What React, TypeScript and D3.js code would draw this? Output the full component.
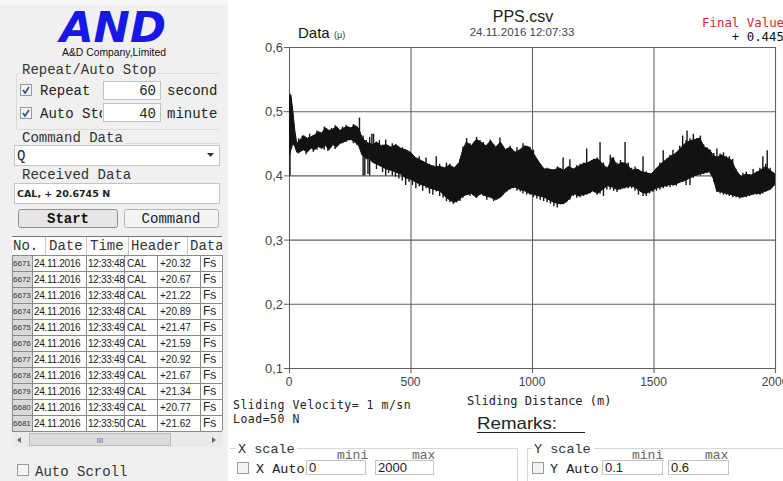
import React from "react";
import * as d3 from "d3";

// Friction coefficient trace: envelope of the dense signal (lower / upper bound) per sliding distance
const distance = [0, 8, 16, 24, 32, 45, 60, 75, 90, 105, 120, 135, 150, 165, 180, 195, 210, 225, 240, 255, 270, 285, 300, 315, 330, 345, 360, 380, 400, 420, 440, 460, 480, 500, 520, 540, 560, 580, 600, 620, 640, 660, 680, 700, 715, 730, 750, 770, 790, 810, 830, 850, 870, 890, 910, 930, 950, 970, 990, 1010, 1030, 1050, 1070, 1090, 1110, 1130, 1150, 1170, 1190, 1210, 1230, 1250, 1270, 1290, 1310, 1330, 1350, 1370, 1390, 1410, 1430, 1450, 1470, 1490, 1510, 1530, 1550, 1570, 1590, 1610, 1630, 1650, 1670, 1690, 1710, 1730, 1745, 1760, 1780, 1800, 1820, 1840, 1860, 1880, 1900, 1920, 1940, 1960, 1980, 2000];
const lower = [0.43, 0.44, 0.45, 0.445, 0.436, 0.437, 0.44, 0.436, 0.443, 0.44, 0.445, 0.442, 0.447, 0.44, 0.448, 0.444, 0.45, 0.452, 0.455, 0.456, 0.452, 0.448, 0.432, 0.428, 0.426, 0.42, 0.418, 0.414, 0.41, 0.408, 0.405, 0.402, 0.396, 0.394, 0.39, 0.386, 0.384, 0.38, 0.378, 0.376, 0.368, 0.362, 0.358, 0.362, 0.368, 0.37, 0.372, 0.366, 0.372, 0.368, 0.366, 0.362, 0.366, 0.374, 0.38, 0.382, 0.378, 0.376, 0.372, 0.37, 0.368, 0.366, 0.362, 0.358, 0.356, 0.356, 0.362, 0.372, 0.368, 0.37, 0.372, 0.376, 0.372, 0.378, 0.384, 0.382, 0.378, 0.38, 0.382, 0.384, 0.38, 0.374, 0.372, 0.376, 0.38, 0.382, 0.384, 0.386, 0.386, 0.39, 0.392, 0.396, 0.4, 0.402, 0.404, 0.406, 0.396, 0.376, 0.374, 0.372, 0.37, 0.368, 0.366, 0.368, 0.37, 0.372, 0.372, 0.376, 0.378, 0.386];
const upper = [0.52, 0.525, 0.5, 0.47, 0.45, 0.455, 0.462, 0.458, 0.46, 0.463, 0.468, 0.466, 0.474, 0.47, 0.472, 0.476, 0.47, 0.474, 0.476, 0.474, 0.478, 0.474, 0.46, 0.452, 0.45, 0.448, 0.452, 0.446, 0.448, 0.444, 0.448, 0.442, 0.44, 0.436, 0.428, 0.424, 0.42, 0.416, 0.414, 0.414, 0.412, 0.416, 0.412, 0.42, 0.44, 0.452, 0.446, 0.456, 0.452, 0.446, 0.454, 0.444, 0.452, 0.44, 0.444, 0.436, 0.44, 0.446, 0.444, 0.432, 0.42, 0.41, 0.41, 0.408, 0.412, 0.408, 0.414, 0.41, 0.414, 0.418, 0.42, 0.424, 0.426, 0.418, 0.41, 0.428, 0.416, 0.42, 0.418, 0.408, 0.41, 0.406, 0.404, 0.402, 0.41, 0.418, 0.424, 0.43, 0.434, 0.442, 0.45, 0.454, 0.456, 0.458, 0.444, 0.44, 0.432, 0.428, 0.432, 0.428, 0.424, 0.408, 0.398, 0.402, 0.4, 0.404, 0.408, 0.414, 0.408, 0.402];

// Local high / low excursions of the signal (one vertical stroke each)
const swingDistance = [4, 40, 55, 70, 85, 100, 115, 130, 145, 160, 175, 190, 205, 220, 235, 250, 265, 280, 290, 305, 312, 318, 325, 332, 341, 348, 360, 372, 385, 398, 410, 425, 438, 452, 466, 480, 494, 508, 522, 536, 550, 564, 578, 592, 606, 620, 634, 648, 662, 676, 690, 704, 716, 731, 745, 758, 772, 786, 800, 814, 828, 842, 856, 868, 882, 896, 910, 924, 938, 952, 963, 978, 992, 1006, 1020, 1034, 1048, 1062, 1076, 1090, 1104, 1118, 1128, 1142, 1156, 1170, 1184, 1198, 1212, 1225, 1240, 1254, 1268, 1280, 1294, 1308, 1322, 1336, 1350, 1364, 1383, 1396, 1410, 1424, 1438, 1457, 1470, 1484, 1498, 1512, 1526, 1540, 1554, 1568, 1580, 1594, 1608, 1620, 1634, 1638, 1650, 1664, 1678, 1693, 1706, 1720, 1734, 1748, 1761, 1774, 1788, 1800, 1812, 1826, 1840, 1854, 1868, 1882, 1896, 1910, 1924, 1938, 1950, 1962, 1968, 1980, 1994];
const swingHigh = [0.527, 0.458, 0.462, 0.456, 0.465, 0.463, 0.47, 0.466, 0.476, 0.468, 0.474, 0.478, 0.47, 0.476, 0.479, 0.474, 0.48, 0.476, 0.49, 0.462, 0.455, 0.455, 0.45, 0.46, 0.465, 0.465, 0.452, 0.455, 0.448, 0.456, 0.446, 0.45, 0.446, 0.44, 0.444, 0.44, 0.436, 0.43, 0.425, 0.43, 0.422, 0.428, 0.418, 0.415, 0.43, 0.418, 0.412, 0.42, 0.418, 0.41, 0.415, 0.425, 0.445, 0.458, 0.45, 0.448, 0.46, 0.455, 0.452, 0.445, 0.456, 0.448, 0.445, 0.459, 0.444, 0.442, 0.446, 0.438, 0.444, 0.44, 0.45, 0.446, 0.444, 0.44, 0.425, 0.418, 0.41, 0.412, 0.408, 0.41, 0.414, 0.41, 0.428, 0.412, 0.425, 0.41, 0.416, 0.418, 0.42, 0.442, 0.422, 0.426, 0.428, 0.452, 0.42, 0.414, 0.432, 0.428, 0.42, 0.424, 0.452, 0.42, 0.412, 0.414, 0.41, 0.43, 0.406, 0.404, 0.405, 0.412, 0.42, 0.439, 0.426, 0.432, 0.44, 0.436, 0.446, 0.462, 0.455, 0.47, 0.458, 0.465, 0.458, 0.462, 0.448, 0.444, 0.44, 0.435, 0.442, 0.434, 0.436, 0.43, 0.43, 0.426, 0.41, 0.4, 0.404, 0.406, 0.402, 0.41, 0.406, 0.412, 0.43, 0.418, 0.439, 0.412, 0.404];
const swingLow = [0.4, 0.434, 0.438, 0.433, 0.44, 0.437, 0.44, 0.443, 0.44, 0.438, 0.445, 0.441, 0.448, 0.45, 0.452, 0.455, 0.45, 0.447, 0.45, 0.4, 0.4, 0.425, 0.402, 0.4, 0.44, 0.42, 0.41, 0.415, 0.405, 0.4, 0.404, 0.4, 0.398, 0.395, 0.392, 0.385, 0.39, 0.385, 0.38, 0.383, 0.376, 0.38, 0.372, 0.37, 0.375, 0.368, 0.365, 0.36, 0.358, 0.356, 0.358, 0.36, 0.365, 0.37, 0.368, 0.372, 0.365, 0.37, 0.368, 0.362, 0.366, 0.36, 0.364, 0.366, 0.37, 0.375, 0.378, 0.38, 0.376, 0.375, 0.372, 0.37, 0.37, 0.366, 0.364, 0.362, 0.36, 0.358, 0.356, 0.352, 0.35, 0.355, 0.356, 0.358, 0.362, 0.368, 0.365, 0.366, 0.368, 0.37, 0.372, 0.374, 0.37, 0.372, 0.368, 0.378, 0.378, 0.376, 0.374, 0.378, 0.38, 0.38, 0.38, 0.376, 0.37, 0.368, 0.368, 0.372, 0.374, 0.376, 0.378, 0.38, 0.382, 0.382, 0.384, 0.384, 0.388, 0.39, 0.385, 0.395, 0.385, 0.396, 0.4, 0.4, 0.402, 0.404, 0.404, 0.39, 0.374, 0.372, 0.37, 0.37, 0.368, 0.366, 0.366, 0.364, 0.366, 0.366, 0.368, 0.37, 0.37, 0.37, 0.372, 0.374, 0.376, 0.378, 0.384];

const xTicks = [0, 500, 1000, 1500, 2000];
const yTicks = [0.1, 0.2, 0.3, 0.4, 0.5, 0.6];

// Received data log
const rowNo = [6671, 6672, 6673, 6674, 6675, 6676, 6677, 6678, 6679, 6680, 6681];
const rowDate = ["24.11.2016", "24.11.2016", "24.11.2016", "24.11.2016", "24.11.2016", "24.11.2016", "24.11.2016", "24.11.2016", "24.11.2016", "24.11.2016", "24.11.2016"];
const rowTime = ["12:33:48", "12:33:48", "12:33:48", "12:33:48", "12:33:49", "12:33:49", "12:33:49", "12:33:49", "12:33:49", "12:33:49", "12:33:50"];
const rowHeader = ["CAL", "CAL", "CAL", "CAL", "CAL", "CAL", "CAL", "CAL", "CAL", "CAL", "CAL"];
const rowValue = ["+20.32", "+20.67", "+21.22", "+20.89", "+21.47", "+21.59", "+20.92", "+21.67", "+21.34", "+20.77", "+21.62"];
const rowUnit = ["Fs", "Fs", "Fs", "Fs", "Fs", "Fs", "Fs", "Fs", "Fs", "Fs", "Fs"];

const finalValue = 0.445;

const MONO = "'Liberation Mono', 'Courier New', monospace";
const CONSOLE = "'DejaVu Sans Mono', monospace";
const SANS = "Arial, 'Liberation Sans', sans-serif";

function CheckBox({ x, y, checked }: { x: number; y: number; checked: boolean }) {
  return (
    <g>
      <rect x={x + 0.5} y={y + 0.5} width={11} height={11} fill="#f4f4f4" stroke="#9a9a9a" />
      {checked && (
        <path d={`M${x + 3},${y + 6} L${x + 5},${y + 9} L${x + 9},${y + 3}`} fill="none" stroke="#2b4f9a" strokeWidth={1.6} />
      )}
    </g>
  );
}

function TextBox({ x, y, w, h }: { x: number; y: number; w: number; h: number }) {
  return <rect x={x + 0.5} y={y + 0.5} width={w} height={h} fill="#fff" stroke="#c4c4c4" />;
}

export default function App() {
  const x = d3.scaleLinear().domain([0, 2000]).range([289, 775]);
  const y = d3.scaleLinear().domain([0.1, 0.6]).range([368, 47]);

  const band = d3
    .area<number>()
    .x((_, i) => x(distance[i]))
    .y0((_, i) => y(lower[i]))
    .y1((_, i) => y(upper[i]));
  const bandPath = band(distance) || "";

  const fmtY = (v: number) => d3.format(".1f")(v).replace(".", ",");

  const rowH = 16;
  const tableTop = 237;
  const headH = 18;
  const rowCols = [12, 32, 86, 124, 157, 200, 222];

  return (
    <svg width={783} height={481} style={{ position: "absolute", left: 0, top: 0 }} fontFamily={SANS}>
      <defs>
        <clipPath id="clip-autostop">
          <rect x={30} y={100} width={72} height={25} />
        </clipPath>
        <clipPath id="clip-xauto">
          <rect x={250} y={458} width={55} height={20} />
        </clipPath>
        <clipPath id="clip-plot">
          <rect x={289} y={40} width={486} height={330} />
        </clipPath>
      </defs>
      <rect x={0} y={0} width={783} height={481} fill="#fff" />

      {/* control panel */}
      <rect x={0} y={0} width={228} height={481} fill="#f0f0f0" />
      <rect x={0} y={0} width={228} height={5} fill="#f7f7f7" />
      <text x={60} y={42} fontFamily="'DejaVu Sans', sans-serif" fontWeight="bold" fontStyle="italic" fontSize={42} fill="#1717e8" textLength={106} lengthAdjust="spacingAndGlyphs">AND</text>
      <text x={62} y={56} fontSize={10.5} fill="#111" textLength={104} lengthAdjust="spacingAndGlyphs">A&amp;D Company,Limited</text>

      <rect x={16.5} y={73.5} width={203} height={56} rx={2} fill="none" stroke="#dadada" />
      <rect x={20} y={64} width={138} height={14} fill="#f0f0f0" />
      <text x={22} y={74} fontFamily={MONO} fontSize={14} fill="#333">Repeat/Auto Stop</text>
      <CheckBox x={20} y={84} checked />
      <text x={40} y={95} fontFamily={MONO} fontSize={14} fill="#222">Repeat</text>
      <TextBox x={103} y={81} w={57} h={18} />
      <text x={156} y={95} textAnchor="end" fontFamily={MONO} fontSize={14} fill="#222">60</text>
      <text x={167} y={95} fontFamily={MONO} fontSize={14} fill="#222">second</text>
      <CheckBox x={20} y={107} checked />
      <text x={40} y={118} fontFamily={MONO} fontSize={14} fill="#222" clipPath="url(#clip-autostop)">Auto Stop</text>
      <TextBox x={103} y={103} w={57} h={18} />
      <text x={156} y={118} textAnchor="end" fontFamily={MONO} fontSize={14} fill="#222">40</text>
      <text x={167} y={118} fontFamily={MONO} fontSize={14} fill="#222">minute</text>
      <rect x={219} y={60} width={9} height={80} fill="#f0f0f0" />

      <text x={22} y={142} fontFamily={MONO} fontSize={14} fill="#333">Command Data</text>
      <line x1={125} x2={219} y1={143.5} y2={143.5} stroke="#dadada" />
      <TextBox x={14} y={145} w={205} h={20} />
      <text x={17} y={160} fontFamily={MONO} fontSize={14} fill="#222">Q</text>
      <path d="M207,153 L214,153 L210.5,157 Z" fill="#333" />
      <text x={22} y={179} fontFamily={MONO} fontSize={14} fill="#333">Received Data</text>
      <TextBox x={14} y={183} w={205} h={20} />
      <text x={17} y={197} fontFamily="'DejaVu Sans', sans-serif" fontWeight="bold" fontSize={9.5} fill="#222">CAL, + 20.6745  N</text>

      <rect x={18.5} y={209.5} width={99} height={18} rx={2} fill="#e6e6e6" stroke="#8f8f8f" />
      <text x={68} y={223} textAnchor="middle" fontFamily={MONO} fontWeight="bold" fontSize={14} fill="#111">Start</text>
      <rect x={124.5} y={209.5} width={94} height={18} rx={2} fill="#f4f4f4" stroke="#b5b5b5" />
      <text x={171} y={223} textAnchor="middle" fontFamily={MONO} fontSize={14} fill="#222">Command</text>

      {/* data log table */}
      <rect x={12} y={tableTop} width={210} height={headH + rowNo.length * rowH} fill="#fff" />
      <line x1={12} x2={222} y1={tableTop - 0.5} y2={tableTop - 0.5} stroke="#777" />
      {[45.5, 86.5, 128.5, 187.5].map((cx) => (
        <line key={cx} x1={cx} x2={cx} y1={tableTop} y2={tableTop + headH} stroke="#c8c8c8" />
      ))}
      <text y={tableTop + 13} fontFamily={MONO} fontSize={14} fill="#333">
        <tspan x={13}>No.</tspan>
        <tspan x={49}>Date</tspan>
        <tspan x={90}>Time</tspan>
        <tspan x={131}>Header</tspan>
        <tspan x={190}>Data</tspan>
      </text>
      <rect x={222} y={tableTop} width={6} height={headH} fill="#f0f0f0" />
      {rowNo.map((n, i) => {
        const top = tableTop + headH + i * rowH;
        const base = top + 12;
        return (
          <g key={n}>
            <rect x={12} y={top} width={20} height={rowH} fill="#d9d9d9" />
            <line x1={12} x2={222} y1={top + 0.5} y2={top + 0.5} stroke="#8a8a8a" />
            {rowCols.map((cx) => (
              <line key={cx} x1={cx + 0.5} x2={cx + 0.5} y1={top} y2={top + rowH} stroke="#8a8a8a" />
            ))}
            <text x={13} y={base - 1} fontSize={8} fill="#333">{n}</text>
            <text x={34} y={base} fontSize={10} letterSpacing={-0.3} fill="#222">{rowDate[i]}</text>
            <text x={88} y={base} fontSize={10} letterSpacing={-0.3} fill="#222">{rowTime[i]}</text>
            <text x={127} y={base} fontSize={10} fill="#222">{rowHeader[i]}</text>
            <text x={160} y={base} fontSize={10} fill="#222">{rowValue[i]}</text>
            <text x={203} y={base} fontSize={12} fill="#222">{rowUnit[i]}</text>
          </g>
        );
      })}
      <line x1={12} x2={222} y1={tableTop + headH + rowNo.length * rowH + 0.5} y2={tableTop + headH + rowNo.length * rowH + 0.5} stroke="#8a8a8a" />

      {/* horizontal scrollbar */}
      <rect x={12} y={432} width={210} height={15} fill="#eaeaea" />
      <rect x={29.5} y={433.5} width={141} height={12} fill="#dcdcdc" stroke="#bdbdbd" />
      <text x={100} y={443} textAnchor="middle" fontSize={8} fill="#666">III</text>
      <path d="M17,440 L21,437 L21,443 Z" fill="#666" />
      <path d="M216,440 L212,437 L212,443 Z" fill="#666" />

      <CheckBox x={17} y={464} checked={false} />
      <text x={35} y={476} fontFamily={MONO} fontSize={14} fill="#333">Auto Scroll</text>

      {/* chart */}
      <rect x={x(0)} y={y(0.6)} width={x(2000) - x(0)} height={y(0.1) - y(0.6)} fill="#fff" />
      {yTicks.map((t) => (
        <g key={t}>
          <line x1={x(0)} x2={x(2000)} y1={y(t) + 0.5} y2={y(t) + 0.5} stroke="#626262" strokeWidth={1.1} />
          <line x1={x(0) - 5} x2={x(0)} y1={y(t) + 0.5} y2={y(t) + 0.5} stroke="#626262" />
          <text x={x(0) - 6} y={y(t) + 5} textAnchor="end" fontSize={13} fill="#444">{fmtY(t)}</text>
        </g>
      ))}
      {xTicks.map((t) => (
        <g key={t}>
          <line x1={x(t) + 0.5} x2={x(t) + 0.5} y1={y(0.6)} y2={y(0.1) + 5} stroke="#626262" strokeWidth={1.1} />
          <text x={x(t)} y={y(0.1) + 18} textAnchor="middle" fontSize={12} fill="#444">{t}</text>
        </g>
      ))}

      <g clipPath="url(#clip-plot)">
        <path d={bandPath} fill="#111" stroke="#111" strokeWidth={1} strokeLinejoin="round" />
        {swingDistance.map((d, i) => (
          <line key={i} x1={x(d)} x2={x(d)} y1={y(swingLow[i])} y2={y(swingHigh[i])} stroke="#141414" strokeWidth={1.4} />
        ))}
      </g>

      <text x={298} y={38} fontSize={15} fill="#111">Data</text>
      <text x={334} y={38} fontSize={9} fill="#333">(μ)</text>
      <text x={523} y={22} textAnchor="middle" fontSize={16} fill="#222">PPS.csv</text>
      <text x={522} y={36} textAnchor="middle" fontSize={11.5} fill="#444">24.11.2016 12:07:33</text>
      <text x={702} y={27} fontFamily={CONSOLE} fontSize={12.4} fill="#e3262b">Final Value</text>
      <text x={784} y={41} textAnchor="end" fontFamily={CONSOLE} fontSize={12.4} fill="#111">{`+ ${d3.format(".3f")(finalValue)}`}</text>

      <text x={467} y={405} fontFamily={CONSOLE} fontSize={12} fill="#222">Sliding Distance (m)</text>
      <text x={233} y={409} fontFamily={CONSOLE} fontSize={11.5} letterSpacing={0.5} fill="#222">Sliding Velocity= 1 m/sn</text>
      <text x={233} y={423} fontFamily={CONSOLE} fontSize={11.5} letterSpacing={0.5} fill="#222">Load=50 N</text>
      <text x={477} y={429} fontSize={17} fill="#222" textLength={80} lengthAdjust="spacingAndGlyphs">Remarks:</text>
      <line x1={477} x2={585} y1={432.5} y2={432.5} stroke="#222" />

      {/* axis range controls */}
      <line x1={230} x2={236} y1={448.5} y2={448.5} stroke="#d6d6d6" />
      <line x1={297} x2={517} y1={448.5} y2={448.5} stroke="#d6d6d6" />
      <line x1={517.5} x2={517.5} y1={448} y2={481} stroke="#d6d6d6" />
      <text x={238} y={453} fontFamily={MONO} fontSize={13.5} fill="#333">X scale</text>
      <text x={337} y={459} fontFamily={MONO} fontSize={13} fill="#666">mini</text>
      <text x={412} y={459} fontFamily={MONO} fontSize={13} fill="#666">max</text>
      <CheckBox x={237} y={462} checked={false} />
      <text x={256} y={473} fontFamily={MONO} fontSize={13.5} fill="#222" clipPath="url(#clip-xauto)">X Auto</text>
      <TextBox x={306} y={460} w={59} h={14} />
      <text x={309} y={472} fontSize={13} fill="#222">0</text>
      <TextBox x={375} y={460} w={58} h={14} />
      <text x={378} y={472} fontSize={13} fill="#222">2000</text>

      <line x1={527.5} x2={527.5} y1={448} y2={481} stroke="#d6d6d6" />
      <line x1={527} x2={532} y1={448.5} y2={448.5} stroke="#d6d6d6" />
      <line x1={594} x2={783} y1={448.5} y2={448.5} stroke="#d6d6d6" />
      <text x={534} y={453} fontFamily={MONO} fontSize={13.5} fill="#333">Y scale</text>
      <text x={632} y={459} fontFamily={MONO} fontSize={13} fill="#666">mini</text>
      <text x={705} y={459} fontFamily={MONO} fontSize={13} fill="#666">max</text>
      <CheckBox x={532} y={462} checked={false} />
      <text x={550} y={473} fontFamily={MONO} fontSize={13.5} fill="#222">Y Auto</text>
      <TextBox x={602} y={460} w={60} h={14} />
      <text x={605} y={472} fontSize={13} fill="#222">0.1</text>
      <TextBox x={668} y={460} w={60} h={14} />
      <text x={671} y={472} fontSize={13} fill="#222">0.6</text>
    </svg>
  );
}
